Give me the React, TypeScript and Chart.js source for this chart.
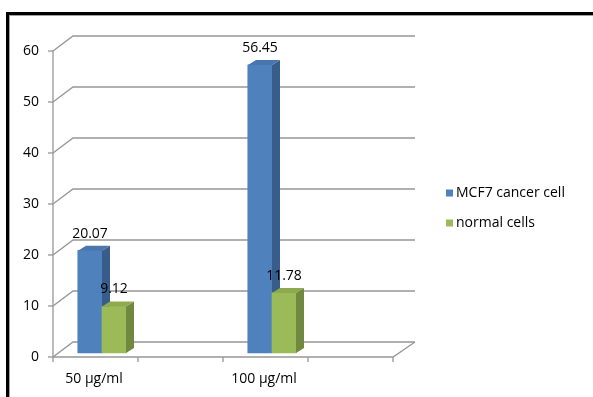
import { useEffect, useRef } from 'react';
import { Chart, registerables } from 'chart.js';

Chart.register(...registerables);

const categories = ['50 µg/ml', '100 µg/ml'];
const seriesNames = ['MCF7 cancer cell', 'normal cells'];
const mcf7Values = [20.07, 56.45];
const normalValues = [9.12, 11.78];
const yTicks = [0, 10, 20, 30, 40, 50, 60];

const FONT = '"Open Sans", Lato, sans-serif';
const TEXT = '#000000';
const GRID = '#969696';

const faces = [
  { front: '#4F81BD', side: '#385D8A', top: '#4876AD' },
  { front: '#9BBB59', side: '#71893F', top: '#8DAA4F' },
];

// 3D geometry (pixels)
const FRONT_X = 53;
const BACK_X = 73;
const FRONT_DY = 4;
const BACK_DY = -11;
const FLOOR_FRONT_RIGHT = 393;
const BACK_RIGHT = 415;
const DEPTH_X = 8;
const DEPTH_Y = -5;

const threeD = {
  id: 'threeD',
  beforeDraw(chart: any) {
    const ctx = chart.ctx;
    ctx.save();
    ctx.fillStyle = '#ffffff';
    ctx.fillRect(0, 0, chart.width, chart.height);
    // frame
    ctx.fillStyle = '#000000';
    ctx.fillRect(6, 12, chart.width - 6, 3);
    ctx.fillRect(6, 12, 3, chart.height - 12);
    ctx.fillStyle = '#a0a0a0';
    ctx.fillRect(9, 15, chart.width - 9, 1);
    ctx.fillRect(9, 15, 1, chart.height - 15);
    ctx.restore();
  },
  beforeDatasetsDraw(chart: any) {
    const ctx = chart.ctx;
    const y = chart.scales.y;
    ctx.save();
    ctx.strokeStyle = GRID;
    ctx.lineWidth = 1.3;
    const ticks = y.ticks;
    ticks.forEach((t: any) => {
      const yb = y.getPixelForValue(t.value);
      const fy = yb + FRONT_DY;
      const by = yb + BACK_DY;
      ctx.beginPath();
      ctx.moveTo(FRONT_X, fy);
      ctx.lineTo(BACK_X, by);
      ctx.lineTo(BACK_RIGHT, by);
      ctx.stroke();
      ctx.beginPath();
      ctx.moveTo(FRONT_X - 5, fy);
      ctx.lineTo(FRONT_X, fy);
      ctx.stroke();
    });
    const y0 = y.getPixelForValue(y.min);
    const yTop = y.getPixelForValue(y.max);
    ctx.beginPath();
    ctx.moveTo(FRONT_X, y0 + FRONT_DY);
    ctx.lineTo(FRONT_X, yTop + FRONT_DY);
    ctx.stroke();
    ctx.beginPath();
    ctx.moveTo(FRONT_X, y0 + FRONT_DY);
    ctx.lineTo(FLOOR_FRONT_RIGHT, y0 + FRONT_DY);
    ctx.lineTo(BACK_RIGHT, y0 + BACK_DY);
    ctx.stroke();
    const n = 4;
    for (let i = 0; i <= n; i++) {
      const x = FRONT_X + ((FLOOR_FRONT_RIGHT - FRONT_X) * i) / n;
      ctx.beginPath();
      ctx.moveTo(x, y0 + FRONT_DY);
      ctx.lineTo(x, y0 + FRONT_DY + 5);
      ctx.stroke();
    }
    ctx.fillStyle = TEXT;
    ctx.font = `14px ${FONT}`;
    ctx.textAlign = 'right';
    ctx.textBaseline = 'middle';
    ticks.forEach((t: any) => {
      const fy = y.getPixelForValue(t.value) + FRONT_DY;
      ctx.fillText(String(t.value), 39, fy);
    });
    ctx.restore();
  },
  afterDatasetsDraw(chart: any) {
    const ctx = chart.ctx;
    ctx.save();
    // 3D faces, drawn series by series so later series sit in front
    chart.data.datasets.forEach((_ds: any, di: number) => {
      const meta = chart.getDatasetMeta(di);
      const f = faces[di];
      meta.data.forEach((bar: any) => {
        bar.draw(ctx);
        const p = bar.getProps(['x', 'y', 'base', 'width'], true);
        const left = p.x - p.width / 2;
        const right = p.x + p.width / 2;
        ctx.fillStyle = f.side;
        ctx.beginPath();
        ctx.moveTo(right, p.y);
        ctx.lineTo(right + DEPTH_X, p.y + DEPTH_Y);
        ctx.lineTo(right + DEPTH_X, p.base + DEPTH_Y);
        ctx.lineTo(right, p.base);
        ctx.closePath();
        ctx.fill();
        ctx.fillStyle = f.top;
        ctx.beginPath();
        ctx.moveTo(left, p.y);
        ctx.lineTo(left + DEPTH_X, p.y + DEPTH_Y);
        ctx.lineTo(right + DEPTH_X, p.y + DEPTH_Y);
        ctx.lineTo(right, p.y);
        ctx.closePath();
        ctx.fill();
      });
    });
    // data labels
    ctx.fillStyle = TEXT;
    ctx.font = `14px ${FONT}`;
    ctx.textAlign = 'center';
    ctx.textBaseline = 'middle';
    chart.data.datasets.forEach((ds: any, di: number) => {
      const meta = chart.getDatasetMeta(di);
      meta.data.forEach((bar: any, i: number) => {
        const p = bar.getProps(['x', 'y'], true);
        ctx.fillText(ds.data[i].toFixed(2), p.x, p.y - 17);
      });
    });
    // legend
    const legendX = 446;
    const legendY = [193, 223];
    chart.data.datasets.forEach((ds: any, di: number) => {
      ctx.fillStyle = ds.backgroundColor;
      ctx.fillRect(legendX, legendY[di] - 3.5, 7, 7);
      ctx.fillStyle = TEXT;
      ctx.textAlign = 'left';
      ctx.font = `14px ${FONT}`;
      ctx.fillText(ds.label, legendX + 10, legendY[di]);
    });
    ctx.restore();
  },
};

export default function App() {
  const ref = useRef<HTMLCanvasElement | null>(null);
  useEffect(() => {
    if (!ref.current) return;
    const chart = new Chart(ref.current, {
      type: 'bar',
      data: {
        labels: categories,
        datasets: [
          {
            label: seriesNames[0],
            data: mcf7Values,
            backgroundColor: faces[0].front,
            barThickness: 24,
          },
          {
            label: seriesNames[1],
            data: normalValues,
            backgroundColor: faces[1].front,
            barThickness: 24,
          },
        ],
      },
      options: {
        responsive: false,
        animation: false,
        devicePixelRatio: 1,
        layout: { padding: { left: 17, right: 236, top: 47, bottom: 0 } },
        plugins: { legend: { display: false }, tooltip: { enabled: false } },
        scales: {
          x: {
            offset: true,
            grid: { display: false, drawTicks: false },
            border: { display: false },
            ticks: {
              color: TEXT,
              font: { family: FONT, size: 14 },
              padding: 18,
              labelOffset: -8,
              maxRotation: 0,
            },
            afterFit: (s: any) => {
              s.height = 44;
            },
          },
          y: {
            display: false,
            min: 0,
            max: 60,
            afterBuildTicks: (s: any) => {
              s.ticks = yTicks.map((v) => ({ value: v }));
            },
          },
        },
      },
      plugins: [threeD],
    });
    return () => chart.destroy();
  }, []);
  return (
    <div style={{ position: 'absolute', left: 0, top: 0, width: 593, height: 397 }}>
      <canvas ref={ref} width={593} height={397} style={{ display: 'block' }} />
    </div>
  );
}
